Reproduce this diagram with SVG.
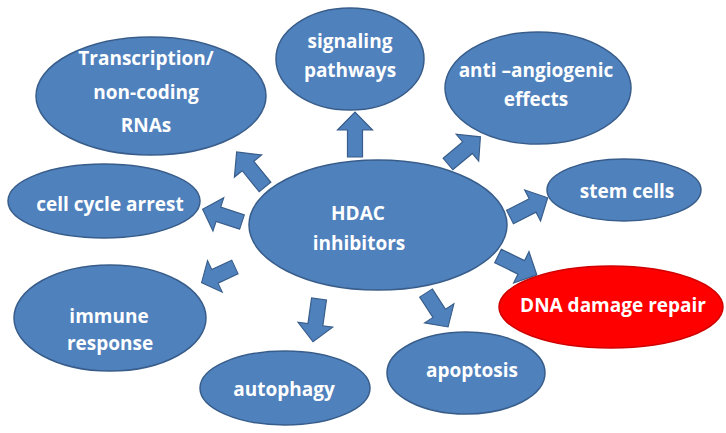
<svg xmlns="http://www.w3.org/2000/svg" xmlns:xlink="http://www.w3.org/1999/xlink" width="726" height="433" viewBox="0 0 726 433">
<style>
.n{fill:#4F81BD;stroke:#385D8A;stroke-width:1.5}
.r{fill:#FF0000;stroke:#D00000;stroke-width:1.5}
.t{font-family:"Open Sans","Liberation Sans",sans-serif;font-weight:700;font-size:19px;fill:#FFFFFF;text-anchor:middle}
.a{fill:#4F81BD;stroke:#385D8A;stroke-width:1.2}
</style>
<defs>
<path id="arr" d="M0,-7.5 L27,-7.5 L27,-17.5 L45,0 L27,17.5 L27,7.5 L0,7.5 Z"/>
</defs>
<rect width="726" height="433" fill="#FFFFFF"/>
<g id="connectors">
<use xlink:href="#arr" class="a" transform="translate(355,157) rotate(-90)"/>
<use xlink:href="#arr" class="a" transform="translate(265,187) rotate(-129) scale(1,1)"/>
<use xlink:href="#arr" class="a" transform="translate(242,222) rotate(-162) scale(0.92,1)"/>
<use xlink:href="#arr" class="a" transform="translate(448,164) rotate(-40) scale(0.94,1)"/>
<use xlink:href="#arr" class="a" transform="translate(510,217) rotate(-27) scale(0.94,1)"/>
<use xlink:href="#arr" class="a" transform="translate(498,256) rotate(26) scale(0.96,1)"/>
<use xlink:href="#arr" class="a" transform="translate(426,293) rotate(57) scale(0.9,1)"/>
<use xlink:href="#arr" class="a" transform="translate(319,299) rotate(98) scale(0.96,1)"/>
<use xlink:href="#arr" class="a" transform="translate(235,267) rotate(155) scale(0.82,1)"/>
</g>
<g id="transcription">
<ellipse class="n" cx="151" cy="96" rx="115" ry="59"/>
<text class="t" x="146" y="65">Transcription/</text>
<text class="t" x="146" y="99">non-coding</text>
<text class="t" x="146" y="132">RNAs</text>
</g>
<g id="signaling">
<ellipse class="n" cx="350" cy="59" rx="74" ry="51"/>
<text class="t" x="350" y="48">signaling</text>
<text class="t" x="350" y="77">pathways</text>
</g>
<g id="antiangiogenic">
<ellipse class="n" cx="538" cy="88" rx="93" ry="56"/>
<text class="t" x="536" y="77">anti –angiogenic</text>
<text class="t" x="536" y="106">effects</text>
</g>
<g id="stemcells">
<ellipse class="n" cx="624" cy="190" rx="77" ry="31"/>
<text class="t" x="627" y="198">stem cells</text>
</g>
<g id="cellcycle">
<ellipse class="n" cx="104" cy="201" rx="96" ry="37"/>
<text class="t" x="110" y="211">cell cycle arrest</text>
</g>
<g id="hdac">
<ellipse class="n" cx="378" cy="225" rx="129" ry="65"/>
<text class="t" x="358" y="220">HDAC</text>
<text class="t" x="359" y="250">inhibitors</text>
</g>
<g id="immune">
<ellipse class="n" cx="110" cy="318" rx="96" ry="53"/>
<text class="t" x="109" y="323">immune</text>
<text class="t" x="110" y="350">response</text>
</g>
<g id="autophagy">
<ellipse class="n" cx="285" cy="388" rx="85" ry="37"/>
<text class="t" x="284" y="396">autophagy</text>
</g>
<g id="apoptosis">
<ellipse class="n" cx="466" cy="373" rx="79" ry="41"/>
<text class="t" x="472" y="377">apoptosis</text>
</g>
<g id="dnarepair">
<ellipse class="r" cx="611" cy="307" rx="112" ry="41"/>
<text class="t" x="613" y="312">DNA damage repair</text>
</g>
</svg>
